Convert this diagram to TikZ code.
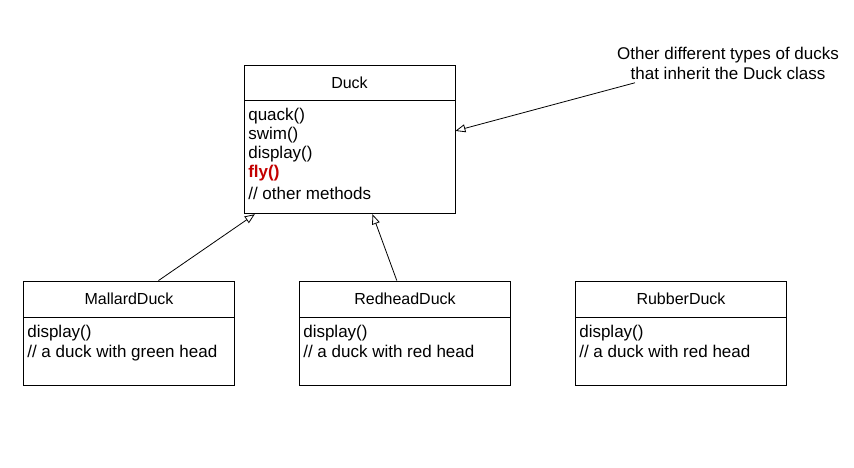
\documentclass[tikz,border=0pt]{standalone}
\usepackage{fontspec}
\setmainfont{Liberation Sans}
\usetikzlibrary{arrows.meta}
\definecolor{flyred}{RGB}{195,0,0}
\tikzset{
  classhead/.style={shape=rectangle,draw=black,line width=0.8pt,minimum width=211pt,minimum height=36pt,inner sep=0pt,font=\fontsize{16}{19}\selectfont},
  classbody/.style={shape=rectangle,draw=black,line width=0.8pt,minimum width=211pt,inner sep=0pt,anchor=north},
  ops/.style={anchor=north west,align=left,inner sep=0pt,font=\fontsize{17}{20.3}\selectfont},
  inherit/.style={-{Triangle[open,length=10pt,width=8pt]},draw=black,line width=0.8pt},
}

\begin{document}
\begin{tikzpicture}[x=1pt,y=-1pt]
\useasboundingbox (0,0) rectangle (854,468);
\node[classhead,minimum height=35pt] (duck) at (349.5,82.5) {Duck};
\node[classbody,minimum height=113pt] (duckbody) at (duck.south) {};
\node[ops,font=\fontsize{17}{18.9}\selectfont] (duckops) at ([xshift=4.5pt,yshift=-8pt]duckbody.north west) {quack()\\swim()\\display()\\\textcolor{flyred}{\textbf{fly()}}\\[3pt]// other methods};

\node[classhead] (mallard) at (129,299) {MallardDuck};
\node[classbody,minimum height=68pt] (mallardbody) at (mallard.south) {};
\node[ops] (mallardops) at ([xshift=4pt,yshift=-7.5pt]mallardbody.north west) {display()\\// a duck with green head};

\node[classhead] (redhead) at (405,299) {RedheadDuck};
\node[classbody,minimum height=68pt] (redheadbody) at (redhead.south) {};
\node[ops] (redheadops) at ([xshift=4pt,yshift=-7.5pt]redheadbody.north west) {display()\\// a duck with red head};

\node[classhead] (rubber) at (681,299) {RubberDuck};
\node[classbody,minimum height=68pt] (rubberbody) at (rubber.south) {};
\node[ops] (rubberops) at ([xshift=4pt,yshift=-7.5pt]rubberbody.north west) {display()\\// a duck with red head};

\node[align=center,font=\fontsize{17}{20}\selectfont] (note) at (728,63) {Other different types of ducks\\that inherit the Duck class};

\draw [inherit] (mallard.32.7) -- (duckbody.211.7);
\draw [inherit] (redhead.114) -- (duckbody.292.6);
\draw [inherit] (note.192) -- (duckbody.14.8);
\end{tikzpicture}
\end{document}
